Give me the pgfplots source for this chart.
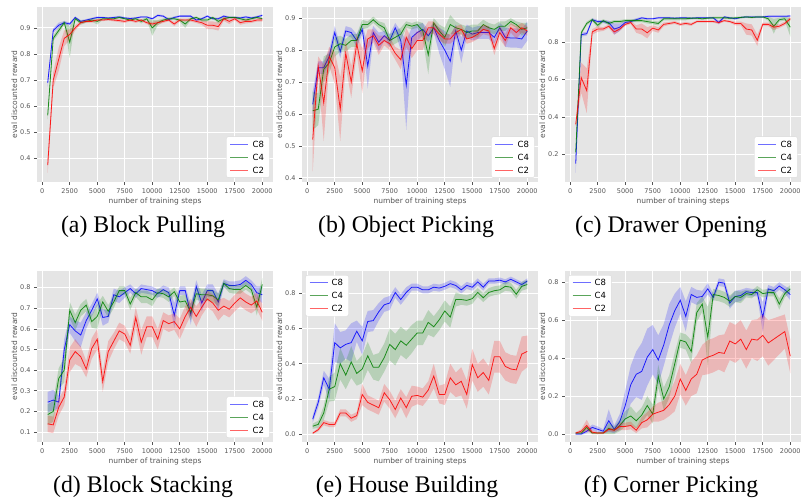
\documentclass[border=0pt]{standalone}
\usepackage{fontspec}
\setmainfont{Liberation Serif}
\newfontfamily\dv{DejaVu Sans}
\usepackage{pgfplots}
\usepackage{pgfplotstable}
\pgfplotsset{compat=1.18}
\definecolor{bg}{HTML}{E5E5E5}
\definecolor{tk}{HTML}{555555}
\definecolor{mgreen}{RGB}{0,128,0}
\definecolor{lblue}{RGB}{110,110,255}
\definecolor{lgreen}{RGB}{90,165,90}
\definecolor{lred}{RGB}{255,100,100}

\pgfplotstableread{
x c8 s8 c4 s4 c2 s2
500 0.690 0.015 0.565 0.015 0.375 0.030
1000 0.890 0.008 0.860 0.010 0.700 0.030
1500 0.910 0.010 0.890 0.012 0.780 0.045
2000 0.920 0.006 0.920 0.008 0.860 0.030
2500 0.915 0.006 0.845 0.060 0.875 0.020
3000 0.940 0.004 0.935 0.005 0.900 0.010
3500 0.925 0.005 0.920 0.008 0.920 0.006
4000 0.930 0.004 0.925 0.005 0.925 0.005
4500 0.935 0.004 0.930 0.006 0.925 0.005
5000 0.940 0.004 0.925 0.012 0.930 0.004
5500 0.940 0.003 0.935 0.004 0.930 0.004
6000 0.938 0.003 0.935 0.004 0.932 0.004
6500 0.940 0.003 0.935 0.004 0.930 0.005
7000 0.942 0.004 0.940 0.004 0.928 0.006
7500 0.938 0.004 0.935 0.004 0.925 0.006
8000 0.936 0.003 0.930 0.005 0.930 0.005
8500 0.938 0.003 0.935 0.004 0.925 0.006
9000 0.942 0.003 0.925 0.008 0.930 0.004
9500 0.942 0.003 0.935 0.005 0.920 0.006
10000 0.935 0.004 0.900 0.030 0.915 0.008
10500 0.948 0.004 0.920 0.010 0.920 0.008
11000 0.945 0.004 0.930 0.006 0.925 0.006
11500 0.932 0.005 0.935 0.005 0.930 0.005
12000 0.940 0.004 0.935 0.005 0.915 0.008
12500 0.945 0.004 0.930 0.006 0.930 0.006
13000 0.945 0.004 0.915 0.015 0.930 0.005
13500 0.945 0.004 0.935 0.005 0.930 0.006
14000 0.930 0.005 0.940 0.004 0.925 0.006
14500 0.935 0.004 0.930 0.006 0.920 0.008
15000 0.945 0.004 0.930 0.006 0.910 0.015
15500 0.935 0.004 0.940 0.004 0.910 0.015
16000 0.935 0.004 0.925 0.008 0.905 0.015
16500 0.945 0.004 0.935 0.006 0.935 0.008
17000 0.940 0.004 0.940 0.004 0.925 0.010
17500 0.940 0.004 0.940 0.004 0.935 0.006
18000 0.938 0.004 0.935 0.005 0.920 0.008
18500 0.942 0.004 0.930 0.006 0.925 0.008
19000 0.938 0.004 0.935 0.005 0.925 0.006
19500 0.942 0.004 0.940 0.004 0.930 0.006
20000 0.948 0.004 0.935 0.005 0.930 0.006
}\tA

\pgfplotstableread{
x c8 s8 c4 s4 c2 s2
500 0.630 0.040 0.610 0.060 0.520 0.100
1000 0.745 0.020 0.615 0.050 0.750 0.030
1500 0.745 0.020 0.740 0.040 0.635 0.120
2000 0.780 0.020 0.760 0.030 0.780 0.030
2500 0.855 0.020 0.810 0.030 0.745 0.050
3000 0.795 0.020 0.820 0.025 0.615 0.100
3500 0.860 0.015 0.815 0.020 0.790 0.040
4000 0.855 0.015 0.830 0.020 0.700 0.050
4500 0.830 0.020 0.830 0.020 0.820 0.030
5000 0.865 0.015 0.880 0.015 0.735 0.070
5500 0.750 0.070 0.880 0.010 0.835 0.030
6000 0.855 0.020 0.895 0.010 0.845 0.020
6500 0.825 0.030 0.880 0.010 0.815 0.030
7000 0.845 0.015 0.870 0.015 0.830 0.015
7500 0.830 0.020 0.830 0.020 0.820 0.020
8000 0.870 0.015 0.840 0.020 0.790 0.020
8500 0.830 0.030 0.850 0.020 0.770 0.030
9000 0.690 0.140 0.880 0.010 0.840 0.030
9500 0.840 0.030 0.875 0.010 0.805 0.030
10000 0.855 0.025 0.880 0.010 0.830 0.030
10500 0.865 0.020 0.860 0.025 0.830 0.030
11000 0.845 0.020 0.785 0.060 0.870 0.020
11500 0.870 0.015 0.885 0.015 0.870 0.020
12000 0.830 0.040 0.860 0.020 0.850 0.020
12500 0.800 0.060 0.840 0.030 0.835 0.015
13000 0.765 0.080 0.880 0.030 0.835 0.015
13500 0.860 0.020 0.870 0.020 0.855 0.020
14000 0.800 0.040 0.865 0.015 0.865 0.015
14500 0.860 0.020 0.855 0.020 0.835 0.015
15000 0.850 0.020 0.860 0.020 0.840 0.015
15500 0.855 0.020 0.860 0.020 0.850 0.015
16000 0.855 0.020 0.880 0.015 0.865 0.015
16500 0.855 0.020 0.870 0.015 0.860 0.015
17000 0.840 0.020 0.865 0.015 0.805 0.020
17500 0.870 0.015 0.875 0.015 0.855 0.020
18000 0.840 0.030 0.875 0.015 0.830 0.020
18500 0.838 0.030 0.890 0.010 0.870 0.015
19000 0.838 0.030 0.880 0.010 0.855 0.020
19500 0.835 0.030 0.865 0.020 0.870 0.015
20000 0.860 0.030 0.870 0.015 0.860 0.015
}\tB

\pgfplotstableread{
x c8 s8 c4 s4 c2 s2
500 0.150 0.050 0.210 0.020 0.360 0.010
1000 0.840 0.010 0.850 0.010 0.610 0.080
1500 0.845 0.010 0.900 0.010 0.540 0.120
2000 0.920 0.008 0.920 0.008 0.855 0.015
2500 0.910 0.008 0.890 0.015 0.870 0.015
3000 0.910 0.008 0.915 0.008 0.870 0.010
3500 0.905 0.010 0.900 0.010 0.885 0.010
4000 0.870 0.030 0.910 0.008 0.855 0.015
4500 0.880 0.020 0.910 0.008 0.870 0.010
5000 0.905 0.010 0.915 0.008 0.895 0.008
5500 0.910 0.008 0.915 0.008 0.905 0.008
6000 0.920 0.008 0.915 0.008 0.870 0.020
6500 0.930 0.005 0.915 0.008 0.870 0.030
7000 0.925 0.005 0.910 0.010 0.850 0.030
7500 0.925 0.005 0.905 0.010 0.875 0.015
8000 0.930 0.005 0.900 0.010 0.865 0.015
8500 0.930 0.005 0.925 0.008 0.895 0.010
9000 0.930 0.005 0.925 0.008 0.900 0.008
9500 0.928 0.005 0.925 0.008 0.905 0.008
10000 0.930 0.005 0.925 0.008 0.895 0.008
10500 0.930 0.005 0.925 0.008 0.900 0.008
11000 0.928 0.005 0.928 0.006 0.895 0.008
11500 0.930 0.005 0.928 0.006 0.910 0.006
12000 0.930 0.005 0.925 0.006 0.910 0.006
12500 0.930 0.005 0.928 0.006 0.910 0.006
13000 0.930 0.005 0.930 0.006 0.910 0.006
13500 0.905 0.010 0.930 0.006 0.905 0.008
14000 0.935 0.005 0.930 0.006 0.915 0.006
14500 0.930 0.005 0.928 0.006 0.910 0.006
15000 0.925 0.005 0.930 0.006 0.900 0.010
15500 0.932 0.005 0.932 0.005 0.900 0.010
16000 0.935 0.005 0.935 0.005 0.870 0.030
16500 0.935 0.005 0.932 0.005 0.865 0.030
17000 0.935 0.005 0.935 0.005 0.810 0.030
17500 0.935 0.005 0.935 0.005 0.895 0.010
18000 0.938 0.005 0.925 0.010 0.895 0.010
18500 0.938 0.005 0.885 0.040 0.880 0.015
19000 0.938 0.005 0.920 0.010 0.885 0.010
19500 0.938 0.005 0.925 0.010 0.900 0.010
20000 0.940 0.005 0.880 0.050 0.925 0.010
}\tC

\pgfplotstableread{
x c8 s8 c4 s4 c2 s2
500 0.245 0.050 0.185 0.050 0.140 0.040
1000 0.255 0.050 0.200 0.050 0.135 0.040
1500 0.245 0.030 0.360 0.050 0.220 0.040
2000 0.500 0.050 0.400 0.060 0.270 0.040
2500 0.620 0.040 0.690 0.040 0.450 0.060
3000 0.590 0.050 0.630 0.040 0.490 0.060
3500 0.570 0.060 0.690 0.030 0.465 0.050
4000 0.640 0.040 0.715 0.030 0.405 0.040
4500 0.690 0.030 0.635 0.030 0.505 0.050
5000 0.745 0.030 0.660 0.060 0.550 0.050
5500 0.655 0.040 0.730 0.030 0.345 0.050
6000 0.660 0.030 0.685 0.030 0.490 0.050
6500 0.765 0.030 0.730 0.030 0.540 0.040
7000 0.755 0.030 0.785 0.020 0.590 0.040
7500 0.775 0.025 0.785 0.020 0.575 0.040
8000 0.795 0.020 0.720 0.030 0.520 0.040
8500 0.770 0.020 0.775 0.020 0.655 0.050
9000 0.795 0.020 0.755 0.030 0.535 0.060
9500 0.790 0.020 0.755 0.030 0.610 0.050
10000 0.785 0.020 0.740 0.030 0.610 0.050
10500 0.770 0.020 0.775 0.020 0.550 0.050
11000 0.790 0.020 0.770 0.020 0.640 0.040
11500 0.775 0.025 0.755 0.025 0.625 0.040
12000 0.665 0.060 0.780 0.020 0.635 0.040
12500 0.785 0.020 0.730 0.030 0.600 0.050
13000 0.785 0.020 0.735 0.030 0.660 0.050
13500 0.670 0.050 0.680 0.040 0.705 0.040
14000 0.805 0.030 0.770 0.030 0.660 0.050
14500 0.725 0.040 0.765 0.030 0.705 0.040
15000 0.785 0.030 0.765 0.030 0.745 0.040
15500 0.785 0.030 0.760 0.030 0.725 0.040
16000 0.730 0.040 0.740 0.030 0.690 0.050
16500 0.820 0.020 0.820 0.015 0.710 0.040
17000 0.810 0.020 0.795 0.020 0.695 0.040
17500 0.810 0.020 0.790 0.020 0.725 0.040
18000 0.815 0.020 0.790 0.020 0.750 0.040
18500 0.835 0.020 0.810 0.020 0.730 0.040
19000 0.815 0.020 0.790 0.020 0.715 0.040
19500 0.775 0.030 0.705 0.040 0.735 0.040
20000 0.765 0.040 0.815 0.030 0.680 0.040
}\tD

\pgfplotstableread{
x c8 s8 c4 s4 c2 s2
500 0.085 0.020 0.045 0.015 0.005 0.005
1000 0.180 0.030 0.055 0.020 0.025 0.010
1500 0.320 0.040 0.120 0.040 0.065 0.015
2000 0.255 0.060 0.255 0.070 0.055 0.015
2500 0.520 0.110 0.270 0.080 0.055 0.015
3000 0.490 0.090 0.400 0.090 0.120 0.020
3500 0.510 0.080 0.335 0.080 0.120 0.020
4000 0.520 0.110 0.410 0.090 0.090 0.020
4500 0.585 0.060 0.345 0.070 0.105 0.020
5000 0.530 0.080 0.370 0.080 0.225 0.060
5500 0.640 0.060 0.445 0.080 0.180 0.040
6000 0.645 0.060 0.380 0.070 0.165 0.040
6500 0.695 0.050 0.380 0.080 0.150 0.040
7000 0.735 0.040 0.435 0.080 0.235 0.050
7500 0.745 0.040 0.510 0.090 0.195 0.050
8000 0.805 0.030 0.480 0.090 0.140 0.050
8500 0.765 0.030 0.530 0.080 0.205 0.050
9000 0.805 0.030 0.505 0.080 0.150 0.060
9500 0.835 0.020 0.540 0.080 0.215 0.060
10000 0.835 0.020 0.575 0.070 0.220 0.050
10500 0.820 0.020 0.575 0.070 0.210 0.050
11000 0.820 0.020 0.635 0.070 0.250 0.050
11500 0.835 0.020 0.610 0.060 0.330 0.070
12000 0.830 0.020 0.650 0.060 0.225 0.050
12500 0.840 0.020 0.700 0.060 0.225 0.060
13000 0.855 0.020 0.665 0.060 0.320 0.080
13500 0.845 0.020 0.765 0.040 0.280 0.070
14000 0.820 0.020 0.765 0.030 0.300 0.080
14500 0.845 0.020 0.760 0.030 0.225 0.080
15000 0.835 0.020 0.770 0.030 0.395 0.090
15500 0.865 0.020 0.805 0.025 0.320 0.080
16000 0.835 0.020 0.775 0.025 0.350 0.080
16500 0.870 0.015 0.805 0.025 0.305 0.080
17000 0.870 0.015 0.815 0.025 0.440 0.090
17500 0.875 0.015 0.820 0.025 0.440 0.090
18000 0.865 0.015 0.840 0.025 0.385 0.080
18500 0.880 0.015 0.835 0.025 0.370 0.080
19000 0.865 0.015 0.795 0.025 0.365 0.080
19500 0.850 0.015 0.840 0.025 0.455 0.100
20000 0.870 0.015 0.850 0.025 0.470 0.090
}\tE

\pgfplotstableread{
x c8 s8 c4 s4 c2 s2
500 0.000 0.005 0.005 0.005 0.005 0.005
1000 0.000 0.005 0.005 0.005 0.015 0.010
1500 0.015 0.010 0.035 0.010 0.045 0.030
2000 0.035 0.015 0.005 0.005 0.010 0.010
2500 0.025 0.015 0.005 0.005 0.005 0.005
3000 0.015 0.010 0.005 0.005 0.005 0.005
3500 0.070 0.060 0.030 0.030 0.025 0.010
4000 0.025 0.020 0.020 0.020 0.020 0.010
4500 0.065 0.040 0.045 0.030 0.040 0.020
5000 0.150 0.080 0.080 0.040 0.040 0.020
5500 0.260 0.100 0.095 0.050 0.045 0.020
6000 0.315 0.120 0.070 0.040 0.020 0.015
6500 0.330 0.150 0.100 0.040 0.060 0.030
7000 0.405 0.150 0.150 0.050 0.075 0.040
7500 0.445 0.130 0.105 0.050 0.105 0.040
8000 0.390 0.130 0.305 0.060 0.115 0.050
8500 0.470 0.110 0.185 0.060 0.125 0.050
9000 0.575 0.110 0.250 0.060 0.155 0.060
9500 0.650 0.090 0.370 0.060 0.200 0.080
10000 0.705 0.070 0.495 0.040 0.290 0.080
10500 0.620 0.080 0.485 0.040 0.230 0.080
11000 0.735 0.040 0.435 0.060 0.290 0.090
11500 0.720 0.040 0.640 0.050 0.315 0.100
12000 0.725 0.030 0.685 0.040 0.390 0.080
12500 0.765 0.030 0.510 0.160 0.405 0.090
13000 0.720 0.020 0.735 0.030 0.415 0.090
13500 0.800 0.020 0.730 0.030 0.430 0.090
14000 0.795 0.020 0.720 0.030 0.425 0.100
14500 0.690 0.030 0.700 0.030 0.490 0.100
15000 0.725 0.030 0.725 0.030 0.475 0.100
15500 0.730 0.030 0.720 0.030 0.500 0.100
16000 0.750 0.020 0.740 0.020 0.445 0.100
16500 0.745 0.020 0.735 0.020 0.500 0.100
17000 0.745 0.020 0.760 0.020 0.495 0.110
17500 0.615 0.080 0.740 0.020 0.520 0.110
18000 0.765 0.020 0.745 0.020 0.480 0.120
18500 0.755 0.020 0.745 0.020 0.500 0.110
19000 0.780 0.020 0.685 0.030 0.520 0.100
19500 0.760 0.020 0.740 0.020 0.540 0.090
20000 0.735 0.030 0.765 0.020 0.410 0.090
}\tF

\pgfplotsset{
  ggstyle/.style={
  scale only axis, width=236pt,
  axis background/.style={fill=bg},
  axis line style={draw=none},
  xmajorgrids, ymajorgrids, major grid style={white, line width=0.8pt},
  tick align=outside, tick pos=left,
  major tick length=3pt,
  every tick/.append style={tk, line width=0.6pt},
  xmin=-475, xmax=20975,
  xtick={0,2500,...,20000},
  scaled x ticks=false, scaled y ticks=false,
  /pgf/number format/assume math mode=true,
  /pgf/number format/1000 sep={},
  yticklabel style={/pgf/number format/fixed, /pgf/number format/fixed zerofill, /pgf/number format/precision=1},
  ticklabel style={font=\dv\fontsize{6.5}{7}\selectfont, text=tk},
  xlabel={number of training steps}, ylabel={eval discounted reward},
  label style={font=\dv\fontsize{7.5}{9}\selectfont, text=tk},
  xlabel style={yshift=3pt},
  ylabel style={yshift=-4pt},
}}

\newcommand\band[4]{%
  \addplot[draw=none, stack plots=y, forget plot] table[x=x, y expr=\thisrow{#2}-\thisrow{#3}] {#1};
  \addplot[fill=#4, fill opacity=0.2, draw=none, stack plots=y, forget plot] table[x=x, y expr=2*\thisrow{#3}] {#1} \closedcycle;
  \addplot[draw=none, stack plots=y, forget plot] table[x=x, y expr=-\thisrow{#2}-\thisrow{#3}] {#1};
  \addplot[#4, line width=0.8pt, opacity=0.85, stack plots=false, forget plot] table[x=x, y=#2] {#1};
}
% legend: #1 anchor point (axis description cs), #2 #3 offset (pt) of the box's lower-left corner
\newcommand\mylegend[3]{%
  \coordinate (Lg) at (axis description cs:#1);
  \draw[fill=white, draw=white!85!black, rounded corners=2pt, line width=0.4pt]
    ([xshift=#2 pt, yshift=#3 pt]Lg) rectangle ([xshift={(#2+43)*1pt}, yshift={(#3+41)*1pt}]Lg);
  \draw[lblue, line width=0.9pt] ([xshift={(#2+4)*1pt}, yshift={(#3+33.5)*1pt}]Lg) -- ([xshift={(#2+22)*1pt}, yshift={(#3+33.5)*1pt}]Lg);
  \draw[lgreen, line width=0.9pt] ([xshift={(#2+4)*1pt}, yshift={(#3+20.5)*1pt}]Lg) -- ([xshift={(#2+22)*1pt}, yshift={(#3+20.5)*1pt}]Lg);
  \draw[lred, line width=0.9pt] ([xshift={(#2+4)*1pt}, yshift={(#3+7.5)*1pt}]Lg) -- ([xshift={(#2+22)*1pt}, yshift={(#3+7.5)*1pt}]Lg);
  \path[every node/.style={anchor=west, inner sep=0pt, font=\dv\fontsize{8.5}{10}\selectfont}]
    ([xshift={(#2+26)*1pt}, yshift={(#3+33.5)*1pt}]Lg) node {C8}
    ([xshift={(#2+26)*1pt}, yshift={(#3+20.5)*1pt}]Lg) node {C4}
    ([xshift={(#2+26)*1pt}, yshift={(#3+7.5)*1pt}]Lg) node {C2};
}
\newcommand\allseries[1]{%
  \band{#1}{c8}{s8}{blue}
  \band{#1}{c4}{s4}{mgreen}
  \band{#1}{c2}{s2}{red}
}

\begin{document}
\begin{tikzpicture}
\useasboundingbox (0,0) rectangle (802pt,-499pt);
% (a)
\begin{axis}[ggstyle, at={(37pt,-7pt)}, anchor=north west, height=175pt,
  ymin=0.31, ymax=0.98, ytick={0.4,0.5,...,0.9}]
\allseries{\tA}
\mylegend{0.985,0.025}{-43}{0}
\end{axis}
% (b)
\begin{axis}[ggstyle, at={(302pt,-7pt)}, anchor=north west, height=175pt,
  ymin=0.387, ymax=0.935, ytick={0.4,0.5,...,0.9}]
\allseries{\tB}
\mylegend{0.985,0.025}{-43}{0}
\end{axis}
% (c)
\begin{axis}[ggstyle, at={(565pt,-7pt)}, anchor=north west, height=175pt,
  ymin=0.051, ymax=0.988, ytick={0.2,0.4,0.6,0.8}]
\allseries{\tC}
\mylegend{0.985,0.025}{-43}{0}
\end{axis}
% (d)
\begin{axis}[ggstyle, at={(37pt,-271pt)}, anchor=north west, height=171pt,
  ymin=0.052, ymax=0.88, ytick={0.1,0.2,...,0.8}]
\allseries{\tD}
\mylegend{0.985,0.025}{-43}{0}
\end{axis}
% (e)
\begin{axis}[ggstyle, at={(302pt,-271pt)}, anchor=north west, height=171pt,
  ymin=-0.045, ymax=0.927, ytick={0,0.2,0.4,0.6,0.8}]
\allseries{\tE}
\mylegend{0.015,0.975}{0}{-41}
\end{axis}
% (f)
\begin{axis}[ggstyle, at={(565pt,-271pt)}, anchor=north west, height=171pt,
  ymin=-0.042, ymax=0.859, ytick={0,0.2,0.4,0.6,0.8}]
\allseries{\tF}
\mylegend{0.015,0.975}{0}{-41}
\end{axis}
% captions
\begin{scope}[every node/.style={anchor=base, inner sep=0pt, font=\fontsize{23.8}{28}\selectfont}]
\node at (143pt,-232pt) {(a) Block Pulling};
\node at (406pt,-232pt) {(b) Object Picking};
\node at (671pt,-232pt) {(c) Drawer Opening};
\node at (143pt,-492pt) {(d) Block Stacking};
\node at (407pt,-492pt) {(e) House Building};
\node at (671pt,-492pt) {(f) Corner Picking};
\end{scope}
\end{tikzpicture}
\end{document}
